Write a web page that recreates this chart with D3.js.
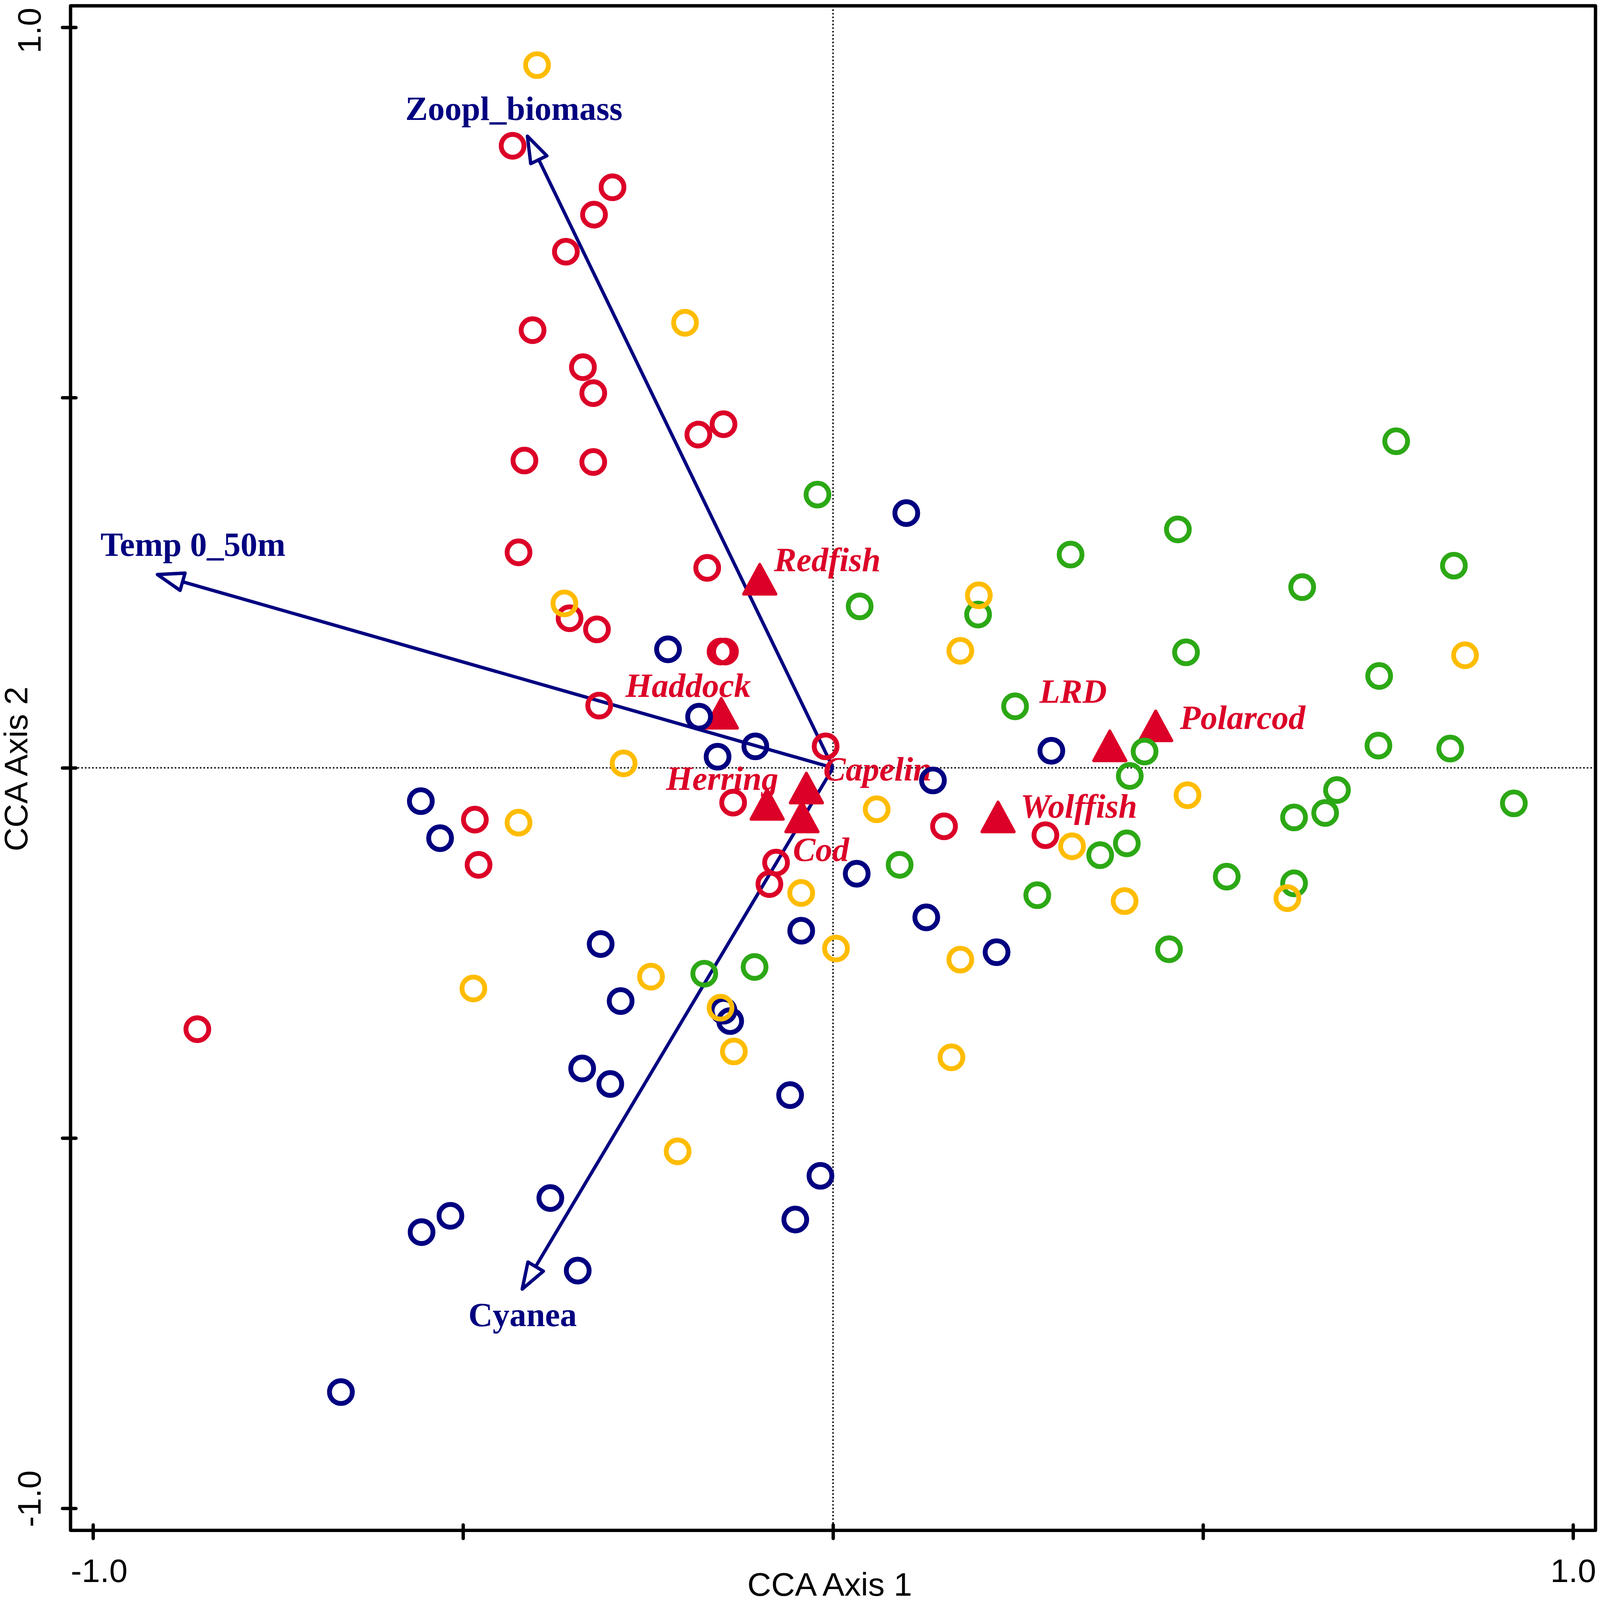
<!DOCTYPE html>
<html>
<head>
<meta charset="utf-8">
<script src="https://cdn.jsdelivr.net/npm/d3@7/dist/d3.min.js"></script>
<style>
  html, body { margin: 0; padding: 0; background: #fff; width: 100%; height: 100%; overflow: hidden; }
  svg { display: block; width: 100vw; height: 100vh; }
</style>
</head>
<body>
<div id="chart"></div>
<script>
// site scores, one pair of arrays per group (CCA axis 1, CCA axis 2)
const navyX = [0.099,-0.223,-0.181,-0.105,-0.156,0.135,0.295,-0.557,-0.531,0.032,0.126,0.221,-0.043,-0.314,-0.287,-0.148,-0.139,-0.339,-0.301,-0.058,-0.017,-0.051,-0.382,-0.517,-0.556,-0.345,-0.665];
const navyY = [0.344,0.160,0.069,0.029,0.015,-0.017,0.023,-0.045,-0.095,-0.143,-0.202,-0.249,-0.220,-0.238,-0.315,-0.328,-0.342,-0.406,-0.427,-0.442,-0.551,-0.610,-0.581,-0.605,-0.627,-0.679,-0.843];
const greenX = [0.761,-0.021,0.466,0.321,0.839,0.634,0.036,0.196,0.477,0.738,0.246,0.737,0.834,0.421,0.401,0.681,0.665,0.623,0.920,0.397,0.361,0.090,0.532,0.623,0.276,0.454,-0.106,-0.174];
const greenY = [0.441,0.369,0.322,0.288,0.273,0.244,0.218,0.207,0.156,0.124,0.083,0.030,0.026,0.022,-0.011,-0.030,-0.061,-0.067,-0.048,-0.102,-0.118,-0.131,-0.147,-0.156,-0.172,-0.245,-0.269,-0.278];
const redX = [-0.433,-0.298,-0.323,-0.361,-0.406,-0.338,-0.324,-0.148,-0.182,-0.417,-0.324,-0.425,-0.170,-0.356,-0.319,-0.146,-0.152,-0.316,-0.010,-0.135,-0.484,-0.479,-0.077,-0.086,0.150,0.287,-0.859];
const redY = [0.840,0.784,0.747,0.697,0.591,0.541,0.506,0.464,0.450,0.415,0.413,0.291,0.270,0.202,0.187,0.157,0.157,0.084,0.029,-0.047,-0.070,-0.131,-0.128,-0.157,-0.079,-0.091,-0.353];
const yellowX = [-0.400,-0.200,-0.363,0.197,0.172,0.854,-0.283,-0.425,0.059,0.479,0.323,0.394,0.614,-0.043,0.004,0.172,-0.246,-0.486,-0.152,-0.134,0.160,-0.210];
const yellowY = [0.949,0.601,0.222,0.233,0.158,0.152,0.006,-0.074,-0.056,-0.037,-0.106,-0.180,-0.176,-0.169,-0.244,-0.259,-0.282,-0.298,-0.324,-0.383,-0.391,-0.518];

// species scores
const speciesNames = ['Redfish','Haddock','Polarcod','LRD','Capelin','Herring','Cod','Wolffish'];
const speciesX = [-0.099,-0.151,0.436,0.374,-0.036,-0.089,-0.042,0.223];
const speciesY = [0.248,0.067,0.050,0.023,-0.034,-0.056,-0.073,-0.073];

// environmental arrows
const envNames = ['Zoopl_biomass','Temp 0_50m','Cyanea'];
const envX = [-0.413,-0.913,-0.420];
const envY = [0.853,0.261,-0.704];

// axes
const tickValues = [-1,-0.5,0,0.5,1];
const tickLabels = ['-1.0','','','','1.0'];

const w = 4275;
const h = 4275;
const frame = { left: 188.5, right: 4263, top: 15.5, bottom: 4089 };
const NAVY = '#000080';
const RED = '#DC0028';
const GREEN = '#2CA815';
const YELLOW = '#FFBC00';

// label offsets from the mark, in px
const speciesLabelDx = [38,-256,65,-188,45,-270,-24,60];
const speciesLabelDy = [-35,-57,-5,-128,-33,-52,104,-11];
const envLabelDx = [-326,-152,-144];
const envLabelDy = [-43,-50,99];

const svg = d3
  .select('#chart')
  .append('svg')
  .attr('viewBox', `0 0 ${w} ${h}`)
  .style('font-family', '"Liberation Sans", Arial, sans-serif');

const xScale = d3.scaleLinear().domain([-1, 1]).range([248.5, 4203]);
const yScale = d3.scaleLinear().domain([-1, 1]).range([4030, 73]);

// ZERO LINES ------------------

svg
  .append('line')
  .attr('x1', frame.left)
  .attr('x2', frame.right)
  .attr('y1', yScale(0))
  .attr('y2', yScale(0))
  .attr('class', 'zero');
svg
  .append('line')
  .attr('x1', xScale(0))
  .attr('x2', xScale(0))
  .attr('y1', frame.top)
  .attr('y2', frame.bottom)
  .attr('class', 'zero');
svg
  .selectAll('.zero')
  .attr('stroke', '#000')
  .attr('stroke-width', 4)
  .attr('stroke-dasharray', '4 5.6');

// ARROWS ----------------------

const arrowLen = 70;
const arrowHalf = 24;

const arrows = svg
  .selectAll('.arrow')
  .data(envNames.map((name, i) => ({ name, x: envX[i], y: envY[i] })))
  .enter()
  .append('g')
  .attr('class', 'arrow');

arrows
  .append('line')
  .attr('x1', xScale(0))
  .attr('y1', yScale(0))
  .attr('x2', (d) => xScale(d.x))
  .attr('y2', (d) => yScale(d.y))
  .attr('stroke', NAVY)
  .attr('stroke-width', 9);

arrows
  .append('path')
  .attr('d', (d) => {
    const tx = xScale(d.x);
    const ty = yScale(d.y);
    const a = Math.atan2(ty - yScale(0), tx - xScale(0));
    const bx = tx - arrowLen * Math.cos(a);
    const by = ty - arrowLen * Math.sin(a);
    const ox = -arrowHalf * Math.sin(a);
    const oy = arrowHalf * Math.cos(a);
    return `M${tx},${ty}L${bx + ox},${by + oy}L${bx - ox},${by - oy}Z`;
  })
  .attr('fill', '#fff')
  .attr('stroke', NAVY)
  .attr('stroke-width', 9)
  .attr('stroke-linejoin', 'round');

// SPECIES TRIANGLES -----------

const triangle = d3.symbol().type(d3.symbolTriangle).size((86 * 86 * Math.sqrt(3)) / 4);

svg
  .selectAll('.species')
  .data(speciesNames.map((name, i) => ({ name, x: speciesX[i], y: speciesY[i] })))
  .enter()
  .append('path')
  .attr('class', 'species')
  .attr('d', triangle)
  .attr('transform', (d) => `translate(${xScale(d.x)},${yScale(d.y)}) scale(1,1.06)`)
  .attr('fill', RED)
  .attr('stroke', RED)
  .attr('stroke-width', 8)
  .attr('stroke-linejoin', 'round');

// LABELS ----------------------

// the species names sit under the rings
svg
  .selectAll('.species-label')
  .data(speciesNames)
  .enter()
  .append('text')
  .attr('class', 'species-label')
  .attr('x', (d, i) => xScale(speciesX[i]) + speciesLabelDx[i])
  .attr('y', (d, i) => yScale(speciesY[i]) + speciesLabelDy[i])
  .style('font-family', '"Liberation Serif", serif')
  .style('font-weight', 'bold')
  .style('font-style', 'italic')
  .style('font-size', '90px')
  .attr('fill', RED)
  .text((d) => d);

svg
  .selectAll('.env-label')
  .data(envNames)
  .enter()
  .append('text')
  .attr('class', 'env-label')
  .attr('x', (d, i) => xScale(envX[i]) + envLabelDx[i])
  .attr('y', (d, i) => yScale(envY[i]) + envLabelDy[i])
  .style('font-family', '"Liberation Serif", serif')
  .style('font-weight', 'bold')
  .style('font-size', '90px')
  .attr('fill', NAVY)
  .text((d) => d);

// SITES -----------------------

const groups = [
  { color: NAVY, xs: navyX, ys: navyY },
  { color: GREEN, xs: greenX, ys: greenY },
  { color: RED, xs: redX, ys: redY },
  { color: YELLOW, xs: yellowX, ys: yellowY },
];

groups.forEach((g) => {
  svg
    .append('g')
    .selectAll('circle')
    .data(g.xs.map((x, i) => ({ x, y: g.ys[i] })))
    .enter()
    .append('circle')
    .attr('cx', (d) => xScale(d.x))
    .attr('cy', (d) => yScale(d.y))
    .attr('r', 30.5)
    .attr('fill', 'none')
    .attr('stroke', g.color)
    .attr('stroke-width', 13);
});

// AXES ------------------------

svg
  .append('rect')
  .attr('x', frame.left)
  .attr('y', frame.top)
  .attr('width', frame.right - frame.left)
  .attr('height', frame.bottom - frame.top)
  .attr('fill', 'none')
  .attr('stroke', '#000')
  .attr('stroke-width', 9)
  .attr('stroke-linejoin', 'round');

const gXAxis = svg.append('g').attr('transform', `translate(0, ${frame.bottom})`);
const gYAxis = svg.append('g').attr('transform', `translate(${frame.left}, 0)`);

gXAxis.call(
  d3.axisBottom(xScale).tickValues(tickValues).tickSize(21.5).tickPadding(0)
    .tickFormat((d, i) => tickLabels[i])
);
gYAxis.call(
  d3.axisLeft(yScale).tickValues(tickValues).tickSize(21.5).tickPadding(0)
    .tickFormat((d, i) => tickLabels[i])
);

[gXAxis, gYAxis].forEach((g) => {
  g.select('.domain').remove();
  g.selectAll('.tick line')
    .attr('stroke', '#000')
    .attr('stroke-width', 9)
    .attr('stroke-linecap', 'round');
  g.selectAll('text')
    .attr('fill', '#000')
    .style('font-family', '"Liberation Sans", Arial, sans-serif')
    .style('font-size', '88px');
});

gXAxis.selectAll('.tick line').attr('y1', -14.5);
gYAxis.selectAll('.tick line').attr('x1', 14.5);

gXAxis
  .selectAll('text')
  .attr('y', 138)
  .attr('dy', 0)
  .attr('text-anchor', 'middle')
  .attr('dx', (d) => (d < 0 ? 16 : 0));

gYAxis
  .selectAll('text')
  .attr('dy', 0)
  .attr('x', 0)
  .attr('y', 0)
  .attr('text-anchor', 'middle')
  .attr('transform', (d) => `translate(-79.5, ${d < 0 ? -26 : 8}) rotate(-90)`);

svg
  .append('text')
  .attr('x', 2217)
  .attr('y', 4263)
  .attr('text-anchor', 'middle')
  .style('font-size', '88px')
  .text('CCA Axis 1');

svg
  .append('text')
  .attr('transform', `translate(73, ${yScale(0) + 3}) rotate(-90)`)
  .attr('text-anchor', 'middle')
  .style('font-size', '88px')
  .text('CCA Axis 2');
</script>
</body>
</html>
